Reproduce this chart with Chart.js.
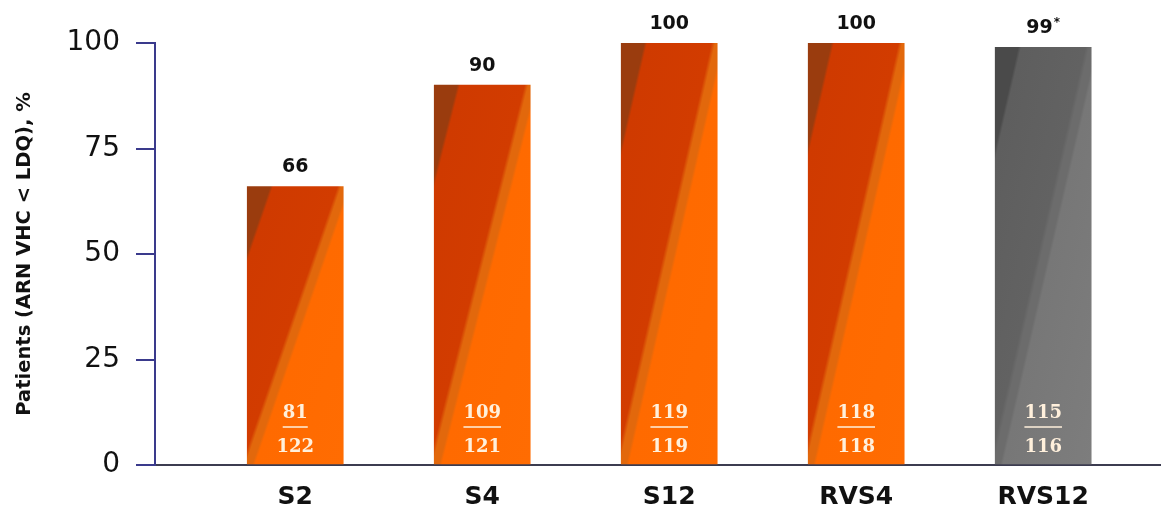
<!DOCTYPE html>
<html>
<head>
<meta charset="utf-8">
<script src="https://cdn.jsdelivr.net/npm/chart.js@4/dist/chart.umd.min.js"></script>
<style>
  html, body { margin: 0; padding: 0; background: #ffffff; }
  canvas { display: block; }
</style>
</head>
<body>
<canvas id="rvsChart" width="1161" height="518"></canvas>
<script>
// Taux de réponse virologique par semaine
const categories = ['S2', 'S4', 'S12', 'RVS4', 'RVS12'];
const rates = [66, 90, 100, 100, 99];
const rateNotes = ['', '', '', '', '*'];
const responders = [81, 109, 119, 118, 115];
const totals = [122, 121, 119, 118, 116];
const yTicks = [0, 25, 50, 75, 100];

// Dégradés : coin sombre, partie rouge, bordure, partie claire
const palettes = {
  orange: ['#9a3c0e', '#cf3a00', '#d23c00', '#e2680c', '#ff6a00', '#ff6c02'],
  gray: ['#4a4a4a', '#5e5e5e', '#626262', '#6c6c6c', '#777777', '#7d7d7d']
};
const barPalette = ['orange', 'orange', 'orange', 'orange', 'gray'];

function barGradient(context) {
  const chart = context.chart;
  const i = context.dataIndex;
  const colors = palettes[barPalette[i]];
  if (!chart.chartArea || i === undefined) return colors[1];
  const xs = chart.scales.x, ys = chart.scales.y;
  const cx = xs.getPixelForValue(i);
  const top = ys.getPixelForValue(rates[i]);
  const bottom = ys.getPixelForValue(0);
  const w = 96, h = bottom - top;
  const L = Math.sqrt(w * w + h * h);
  const k = w * h / L;
  const ux = h / L, uy = w / L;
  const cy = (top + bottom) / 2;
  const g = chart.ctx.createLinearGradient(cx - ux * k, cy - uy * k, cx + ux * k, cy + uy * k);
  g.addColorStop(0, colors[0]);
  g.addColorStop(0.12, colors[0]);
  g.addColorStop(0.135, colors[1]);
  g.addColorStop(0.47, colors[2]);
  g.addColorStop(0.49, colors[3]);
  g.addColorStop(0.525, colors[3]);
  g.addColorStop(0.54, colors[4]);
  g.addColorStop(1, colors[5]);
  return g;
}

// Valeurs au-dessus des barres et effectifs n/N dans les barres
const barLabels = {
  id: 'barLabels',
  afterDatasetsDraw(chart) {
    const ctx = chart.ctx;
    const meta = chart.getDatasetMeta(0);
    const base = chart.scales.y.getPixelForValue(0);
    ctx.save();
    meta.data.forEach(function (bar, i) {
      // pourcentage
      ctx.fillStyle = '#111111';
      ctx.textBaseline = 'middle';
      ctx.font = 'bold 19px "DejaVu Sans"';
      const main = String(rates[i]);
      const mw = ctx.measureText(main).width;
      ctx.font = 'bold 12px "DejaVu Sans"';
      const nw = rateNotes[i] ? ctx.measureText(rateNotes[i]).width + 1 : 0;
      const start = bar.x - (mw + nw) / 2;
      ctx.textAlign = 'left';
      ctx.font = 'bold 19px "DejaVu Sans"';
      ctx.fillText(main, start, bar.y - 19);
      if (rateNotes[i]) {
        ctx.font = 'bold 12px "DejaVu Sans"';
        ctx.fillText(rateNotes[i], start + mw + 1, bar.y - 24);
      }

      // fraction
      ctx.fillStyle = '#fff0dc';
      ctx.strokeStyle = '#fff0dc';
      ctx.textAlign = 'center';
      ctx.font = 'bold 18px "DejaVu Serif"';
      const num = String(responders[i]);
      const den = String(totals[i]);
      ctx.fillText(num, bar.x, base - 52);
      ctx.fillText(den, bar.x, base - 18);
      const uw = ctx.measureText(num).width;
      ctx.lineWidth = 1.5;
      ctx.beginPath();
      ctx.moveTo(bar.x - uw / 2, base - 38);
      ctx.lineTo(bar.x + uw / 2, base - 38);
      ctx.stroke();
    });
    ctx.restore();
  }
};

const ctx = document.getElementById('rvsChart').getContext('2d');
new Chart(ctx, {
  type: 'bar',
  data: {
    datasets: [{
      data: rates.map(function (v, i) { return { x: i, y: v }; }),
      backgroundColor: barGradient,
      borderWidth: 0,
      barThickness: 96
    }]
  },
  options: {
    responsive: false,
    animation: false,
    layout: { padding: { top: 43, left: 0, right: 0, bottom: 0 } },
    plugins: {
      legend: { display: false },
      tooltip: { enabled: false }
    },
    scales: {
      x: {
        type: 'linear',
        offset: false,
        min: -0.75,
        max: 4.63,
        afterFit: function (scale) { scale.height = 53; },
        afterBuildTicks: function (scale) {
          scale.ticks = categories.map(function (c, i) { return { value: i }; });
        },
        grid: { display: false, drawTicks: false, offset: false },
        border: { display: true, color: '#3c3c50', width: 2 },
        ticks: {
          autoSkip: false,
          maxRotation: 0,
          padding: 17,
          color: '#111111',
          font: { family: 'DejaVu Sans', size: 25, weight: 'bold' },
          callback: function (v) { return categories[v]; }
        }
      },
      y: {
        min: 0,
        max: 100,
        afterFit: function (scale) { scale.width = 155; },
        afterBuildTicks: function (scale) {
          scale.ticks = yTicks.map(function (v) { return { value: v }; });
        },
        grid: {
          drawOnChartArea: false,
          drawTicks: true,
          tickLength: 19,
          color: '#3a3a8c',
          lineWidth: 2
        },
        border: { display: true, color: '#3a3a8c', width: 2 },
        ticks: {
          padding: 16,
          color: '#111111',
          font: { family: 'DejaVu Sans', size: 28 }
        },
        title: {
          display: true,
          text: 'Patients (ARN VHC < LDQ), %',
          color: '#111111',
          padding: { top: 13, bottom: 0 },
          font: { family: 'DejaVu Sans', size: 19.5, weight: 'bold' }
        }
      }
    }
  },
  plugins: [barLabels]
});
</script>
</body>
</html>
